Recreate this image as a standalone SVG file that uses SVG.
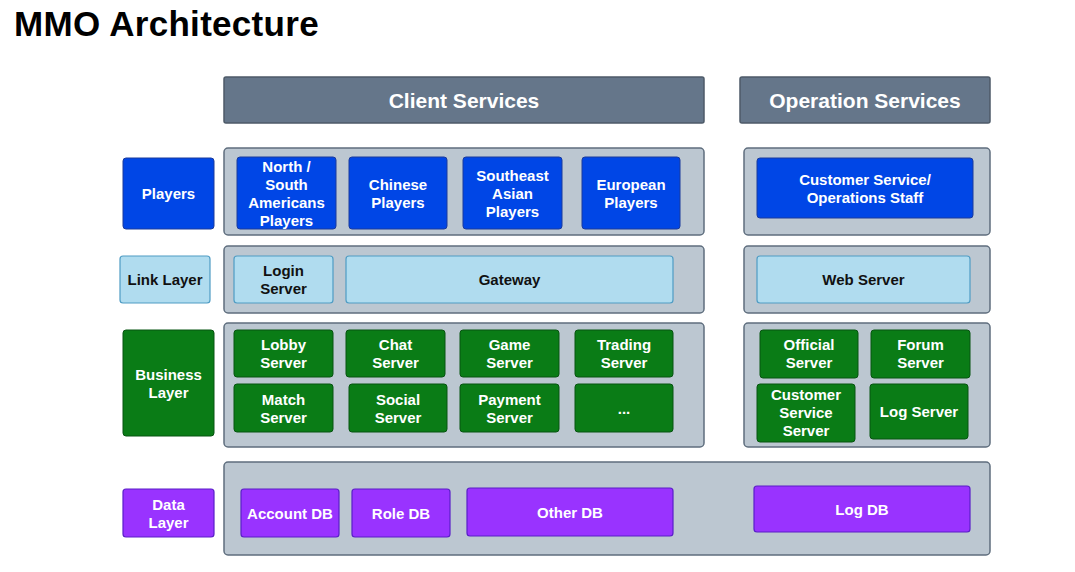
<svg xmlns="http://www.w3.org/2000/svg" width="1075" height="572" viewBox="0 0 1075 572">
<style>
text{font-family:"Liberation Sans",Arial,sans-serif;font-weight:bold;text-anchor:middle;dominant-baseline:central}
.title{font-size:35px;letter-spacing:0.3px;text-anchor:start;dominant-baseline:auto;fill:#000}
.hdr rect{fill:#65768a;stroke:#4d5a68;stroke-width:1.5}
.hdr text{fill:#fff;font-size:21px}
.cont{fill:#bcc7d1;stroke:#5f6e7e;stroke-width:1.5}
.blue rect{fill:#0046e6;stroke:#1a3a9c;stroke-width:1}
.blue text{fill:#fff;font-size:15px}
.lb rect{fill:#b0dcef;stroke:#4f9cc4;stroke-width:1.2}
.lb text{fill:#111;font-size:15px}
.green rect{fill:#0a7c16;stroke:#075410;stroke-width:1}
.green text{fill:#fff;font-size:15px}
.purple rect{fill:#9933ff;stroke:#5a1fc8;stroke-width:1.2}
.purple text{fill:#fff;font-size:15px}
</style>
<rect width="1075" height="572" fill="#fff"/>
<text class="title" x="14" y="36">MMO Architecture</text>

<g id="hdr-client" class="hdr"><rect x="224" y="77" width="480" height="46" rx="2"/><text x="464" y="100">Client Services</text></g>
<g id="hdr-ops" class="hdr"><rect x="740" y="77" width="250" height="46" rx="2"/><text x="865" y="100">Operation Services</text></g>

<g id="containers">
<rect class="cont" x="224" y="148" width="480" height="87" rx="4"/>
<rect class="cont" x="744" y="148" width="246" height="87" rx="4"/>
<rect class="cont" x="224" y="246" width="480" height="67" rx="4"/>
<rect class="cont" x="744" y="246" width="246" height="67" rx="4"/>
<rect class="cont" x="224" y="323" width="480" height="124" rx="4"/>
<rect class="cont" x="744" y="323" width="246" height="124" rx="4"/>
<rect class="cont" x="224" y="462" width="766" height="93" rx="4"/>
</g>

<g id="players" class="blue"><rect x="123" y="158" width="91" height="71" rx="3"/><text x="168.5" y="193.5">Players</text></g>
<g id="na-players" class="blue"><rect x="237" y="157" width="99" height="72" rx="3"/><text x="286.5" y="166">North /</text><text x="286.5" y="184">South</text><text x="286.5" y="202">Americans</text><text x="286.5" y="220">Players</text></g>
<g id="cn-players" class="blue"><rect x="349" y="157" width="98" height="72" rx="3"/><text x="398" y="184">Chinese</text><text x="398" y="202">Players</text></g>
<g id="sea-players" class="blue"><rect x="463" y="157" width="99" height="72" rx="3"/><text x="512.5" y="175">Southeast</text><text x="512.5" y="193">Asian</text><text x="512.5" y="211">Players</text></g>
<g id="eu-players" class="blue"><rect x="582" y="157" width="98" height="72" rx="3"/><text x="631" y="184">European</text><text x="631" y="202">Players</text></g>
<g id="staff" class="blue"><rect x="757" y="158" width="216" height="60" rx="3"/><text x="865" y="179">Customer Service/</text><text x="865" y="197">Operations Staff</text></g>

<g id="link-layer" class="lb"><rect x="120" y="256" width="90" height="47" rx="3"/><text x="165" y="279.5">Link Layer</text></g>
<g id="login" class="lb"><rect x="234" y="256" width="99" height="47" rx="3"/><text x="283.5" y="270.5">Login</text><text x="283.5" y="288.5">Server</text></g>
<g id="gateway" class="lb"><rect x="346" y="256" width="327" height="47" rx="3"/><text x="509.5" y="279.5">Gateway</text></g>
<g id="web" class="lb"><rect x="757" y="256" width="213" height="47" rx="3"/><text x="863.5" y="279.5">Web Server</text></g>

<g id="business-layer" class="green"><rect x="123" y="330" width="91" height="106" rx="3"/><text x="168.5" y="374">Business</text><text x="168.5" y="392">Layer</text></g>
<g id="lobby" class="green"><rect x="234" y="330" width="99" height="47" rx="3"/><text x="283.5" y="344">Lobby</text><text x="283.5" y="362">Server</text></g>
<g id="chat" class="green"><rect x="346" y="330" width="99" height="47" rx="3"/><text x="395.5" y="344">Chat</text><text x="395.5" y="362">Server</text></g>
<g id="game" class="green"><rect x="460" y="330" width="99" height="47" rx="3"/><text x="509.5" y="344">Game</text><text x="509.5" y="362">Server</text></g>
<g id="trading" class="green"><rect x="575" y="330" width="98" height="47" rx="3"/><text x="624" y="344">Trading</text><text x="624" y="362">Server</text></g>
<g id="match" class="green"><rect x="234" y="384" width="99" height="48" rx="3"/><text x="283.5" y="399">Match</text><text x="283.5" y="417">Server</text></g>
<g id="social" class="green"><rect x="349" y="384" width="98" height="48" rx="3"/><text x="398" y="399">Social</text><text x="398" y="417">Server</text></g>
<g id="payment" class="green"><rect x="460" y="384" width="99" height="48" rx="3"/><text x="509.5" y="399">Payment</text><text x="509.5" y="417">Server</text></g>
<g id="more" class="green"><rect x="575" y="384" width="98" height="48" rx="3"/><text x="624" y="408">...</text></g>
<g id="official" class="green"><rect x="760" y="330" width="98" height="48" rx="3"/><text x="809" y="344">Official</text><text x="809" y="362">Server</text></g>
<g id="forum" class="green"><rect x="871" y="330" width="99" height="48" rx="3"/><text x="920.5" y="344">Forum</text><text x="920.5" y="362">Server</text></g>
<g id="cs-server" class="green"><rect x="757" y="384" width="98" height="58" rx="3"/><text x="806" y="394">Customer</text><text x="806" y="412">Service</text><text x="806" y="430">Server</text></g>
<g id="log-server" class="green"><rect x="870" y="384" width="98" height="55" rx="3"/><text x="919" y="411.5">Log Server</text></g>

<g id="data-layer" class="purple"><rect x="123" y="489" width="91" height="48" rx="3"/><text x="168.5" y="504">Data</text><text x="168.5" y="522">Layer</text></g>
<g id="account-db" class="purple"><rect x="241" y="489" width="98" height="48" rx="3"/><text x="290" y="513">Account DB</text></g>
<g id="role-db" class="purple"><rect x="352" y="489" width="98" height="48" rx="3"/><text x="401" y="513">Role DB</text></g>
<g id="other-db" class="purple"><rect x="467" y="488" width="206" height="48" rx="3"/><text x="570" y="512">Other DB</text></g>
<g id="log-db" class="purple"><rect x="754" y="486" width="216" height="46" rx="3"/><text x="862" y="509">Log DB</text></g>

<g id="connectors"/>
</svg>
